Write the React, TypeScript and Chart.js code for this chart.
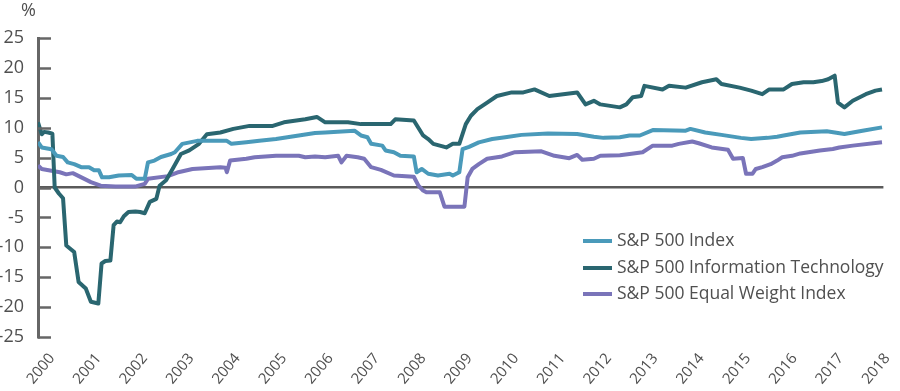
import React, { useEffect, useRef } from "react";
import { Chart, registerables } from "chart.js";

Chart.register(...registerables);

const yearTicks = [2000, 2001, 2002, 2003, 2004, 2005, 2006, 2007, 2008, 2009, 2010, 2011, 2012, 2013, 2014, 2015, 2016, 2017, 2018];
const yTicks = [-25, -20, -15, -10, -5, 0, 5, 10, 15, 20, 25];
const seriesNames = ["S&P 500 Index", "S&P 500 Information Technology", "S&P 500 Equal Weight Index"];
const seriesColors = ["#4a9aba", "#2a6670", "#7a74b9"];

const spDates = [2000.00, 2000.08, 2000.29, 2000.40, 2000.54, 2000.64, 2000.78, 2000.93, 2001.10, 2001.21, 2001.31, 2001.38, 2001.53, 2001.74, 2002.02, 2002.12, 2002.30, 2002.37, 2002.51, 2002.65, 2002.87, 2002.95, 2003.11, 2003.43, 2004.07, 2004.17, 2004.49, 2004.77, 2005.13, 2005.62, 2005.97, 2006.19, 2006.82, 2006.96, 2007.10, 2007.18, 2007.42, 2007.49, 2007.67, 2007.81, 2008.10, 2008.16, 2008.27, 2008.41, 2008.62, 2008.87, 2008.94, 2009.08, 2009.15, 2009.29, 2009.50, 2009.79, 2010.07, 2010.42, 2010.99, 2011.62, 2011.98, 2012.19, 2012.54, 2012.75, 2012.97, 2013.25, 2013.96, 2014.06, 2014.38, 2014.73, 2015.15, 2015.37, 2015.72, 2015.93, 2016.07, 2016.43, 2017.00, 2017.38, 2017.77, 2018.19];
const spValues = [7.6, 6.7, 6.4, 5.3, 5.1, 4.2, 3.9, 3.4, 3.4, 2.9, 2.9, 1.7, 1.7, 2.0, 2.1, 1.45, 1.45, 4.2, 4.5, 5.1, 5.6, 5.9, 7.3, 7.8, 7.8, 7.3, 7.55, 7.8, 8.1, 8.7, 9.1, 9.2, 9.5, 8.7, 8.4, 7.3, 7.0, 6.2, 5.9, 5.3, 5.2, 2.55, 3.1, 2.3, 2.0, 2.3, 2.0, 2.55, 6.4, 6.8, 7.55, 8.1, 8.4, 8.8, 9.05, 8.95, 8.5, 8.3, 8.4, 8.7, 8.7, 9.6, 9.5, 9.8, 9.2, 8.8, 8.3, 8.1, 8.3, 8.5, 8.7, 9.2, 9.4, 8.95, 9.5, 10.05];

const itDates = [2000.00, 2000.08, 2000.13, 2000.22, 2000.31, 2000.36, 2000.45, 2000.54, 2000.61, 2000.72, 2000.78, 2000.875, 2001.03, 2001.14, 2001.30, 2001.37, 2001.45, 2001.56, 2001.63, 2001.70, 2001.77, 2001.85, 2001.95, 2002.10, 2002.20, 2002.30, 2002.41, 2002.55, 2002.62, 2002.76, 2002.90, 2003.08, 2003.26, 2003.47, 2003.64, 2003.93, 2004.21, 2004.56, 2005.06, 2005.30, 2005.76, 2006.01, 2006.19, 2006.68, 2006.96, 2007.60, 2007.70, 2008.10, 2008.30, 2008.41, 2008.52, 2008.80, 2008.94, 2009.08, 2009.22, 2009.33, 2009.47, 2009.68, 2009.89, 2010.21, 2010.46, 2010.70, 2011.02, 2011.62, 2011.80, 2011.98, 2012.12, 2012.54, 2012.68, 2012.82, 2013.00, 2013.07, 2013.46, 2013.60, 2013.96, 2014.31, 2014.62, 2014.73, 2015.12, 2015.37, 2015.61, 2015.76, 2016.07, 2016.25, 2016.50, 2016.71, 2016.89, 2017.03, 2017.17, 2017.24, 2017.38, 2017.56, 2017.84, 2018.05, 2018.19];
const itValues = [10.9, 8.9, 9.3, 9.2, 9.0, 0.0, -1.0, -1.8, -9.7, -10.4, -10.8, -15.8, -16.9, -19.1, -19.4, -12.7, -12.3, -12.2, -6.3, -5.7, -5.8, -4.8, -4.1, -4.0, -4.1, -4.3, -2.4, -1.9, 0.3, 1.2, 3.1, 5.6, 6.2, 7.3, 8.9, 9.2, 9.8, 10.3, 10.3, 10.9, 11.4, 11.8, 10.9, 10.9, 10.6, 10.6, 11.4, 11.2, 8.7, 8.1, 7.3, 6.7, 7.3, 7.3, 10.6, 12.0, 13.1, 14.2, 15.3, 15.9, 15.9, 16.4, 15.3, 15.9, 13.9, 14.5, 13.9, 13.4, 13.9, 15.1, 15.3, 17.0, 16.4, 17.0, 16.7, 17.6, 18.1, 17.3, 16.7, 16.2, 15.6, 16.4, 16.4, 17.3, 17.6, 17.6, 17.8, 18.1, 18.7, 14.2, 13.4, 14.5, 15.6, 16.2, 16.4];

const ewDates = [2000.00, 2000.08, 2000.47, 2000.61, 2000.75, 2001.00, 2001.14, 2001.35, 2001.67, 2002.09, 2002.30, 2002.37, 2002.80, 2003.00, 2003.33, 2003.93, 2004.04, 2004.07, 2004.14, 2004.49, 2004.67, 2005.13, 2005.62, 2005.76, 2005.97, 2006.19, 2006.47, 2006.54, 2006.65, 2006.89, 2007.03, 2007.18, 2007.39, 2007.67, 2008.10, 2008.20, 2008.30, 2008.37, 2008.66, 2008.76, 2009.19, 2009.26, 2009.36, 2009.50, 2009.68, 2010.00, 2010.28, 2010.85, 2011.13, 2011.45, 2011.62, 2011.73, 2011.98, 2012.12, 2012.54, 2012.75, 2013.03, 2013.25, 2013.67, 2013.81, 2014.10, 2014.24, 2014.52, 2014.87, 2014.98, 2015.19, 2015.26, 2015.40, 2015.47, 2015.61, 2015.79, 2015.93, 2016.04, 2016.25, 2016.43, 2016.85, 2017.13, 2017.27, 2017.56, 2018.19];
const ewValues = [3.7, 3.1, 2.55, 2.2, 2.4, 1.45, 0.9, 0.3, 0.15, 0.15, 0.6, 1.45, 1.9, 2.5, 3.1, 3.4, 3.3, 2.55, 4.5, 4.8, 5.05, 5.3, 5.3, 5.05, 5.2, 5.05, 5.3, 4.2, 5.3, 5.05, 4.8, 3.4, 2.95, 2.0, 1.8, 0.3, -0.5, -0.8, -0.8, -3.2, -3.2, 1.7, 3.1, 3.9, 4.8, 5.2, 5.9, 6.05, 5.3, 4.9, 5.45, 4.65, 4.8, 5.3, 5.4, 5.6, 5.9, 7.0, 7.0, 7.3, 7.7, 7.4, 6.7, 6.3, 4.8, 4.95, 2.3, 2.3, 3.1, 3.4, 3.9, 4.5, 5.05, 5.3, 5.7, 6.2, 6.45, 6.7, 7.0, 7.55];

const FONT = "'Open Sans', 'DejaVu Sans', sans-serif";
const TEXT = "#505050";

const toPoints = (d: number[], v: number[]) => d.map((x, i) => ({ x, y: v[i] }));

const decorPlugin = {
  id: "decor",
  afterDraw(chart: any) {
    const { ctx, chartArea, scales } = chart;
    const y = scales.y;
    ctx.save();
    // inward y tick marks
    ctx.strokeStyle = "#666666";
    ctx.lineWidth = 2.5;
    yTicks.forEach((v) => {
      const py = Math.round(y.getPixelForValue(v)) + 0.5;
      ctx.beginPath();
      ctx.moveTo(chartArea.left, py);
      ctx.lineTo(chartArea.left + 13, py);
      ctx.stroke();
    });
    // % unit label
    ctx.fillStyle = TEXT;
    ctx.font = `18px ${FONT}`;
    ctx.textAlign = "left";
    ctx.textBaseline = "middle";
    ctx.fillText("%", 21, 11);
    // legend
    ctx.font = `17.5px ${FONT}`;
    const rows = [241, 268, 294];
    chart.data.datasets.forEach((ds: any, i: number) => {
      ctx.strokeStyle = ds.borderColor;
      ctx.lineWidth = 4;
      ctx.beginPath();
      ctx.moveTo(583, rows[i]);
      ctx.lineTo(612, rows[i]);
      ctx.stroke();
      ctx.fillStyle = TEXT;
      ctx.fillText(ds.label, 617, rows[i]);
    });
    ctx.restore();
  },
};

export default function App() {
  const ref = useRef<HTMLCanvasElement>(null);
  useEffect(() => {
    const canvas = ref.current;
    if (!canvas) return;
    const chart = new Chart(canvas, {
      type: "line",
      data: {
        datasets: [
          { label: seriesNames[0], data: toPoints(spDates, spValues), borderColor: seriesColors[0] },
          { label: seriesNames[1], data: toPoints(itDates, itValues), borderColor: seriesColors[1] },
          { label: seriesNames[2], data: toPoints(ewDates, ewValues), borderColor: seriesColors[2] },
        ].map((d) => ({ ...d, borderWidth: 4, pointRadius: 0, tension: 0, fill: false, borderJoinStyle: "round" as const })),
      },
      options: {
        responsive: false,
        animation: false,
        devicePixelRatio: 1,
        layout: { padding: { top: 38, right: 2, left: 0, bottom: 0 } },
        plugins: { legend: { display: false }, tooltip: { enabled: false } },
        scales: {
          x: {
            type: "linear",
            min: 2000,
            max: 2018.22,
            afterBuildTicks: (s: any) => {
              s.ticks = yearTicks.map((v) => ({ value: v }));
            },
            afterFit: (s: any) => {
              s.height = 54;
            },
            grid: { display: false, drawTicks: false },
            border: { display: false },
            ticks: {
              autoSkip: false,
              minRotation: 50,
              maxRotation: 50,
              padding: 13,
              labelOffset: 14,
              color: TEXT,
              font: { family: FONT, size: 15 },
              callback: (v: any) => String(v),
            },
          },
          y: {
            min: -25,
            max: 25,
            afterBuildTicks: (s: any) => {
              s.ticks = yTicks.map((v) => ({ value: v }));
            },
            afterFit: (s: any) => {
              s.width = 38;
            },
            grid: {
              drawTicks: false,
              color: (c: any) => (c.tick && c.tick.value === 0 ? "#5a5a5a" : "rgba(0,0,0,0)"),
              lineWidth: 2.5,
            },
            border: { display: true, color: "#666666", width: 3 },
            ticks: {
              padding: 14,
              color: TEXT,
              font: { family: FONT, size: 18 },
              callback: (v: any) => String(v),
            },
          },
        },
      },
      plugins: [decorPlugin],
    });
    return () => chart.destroy();
  }, []);
  return (
    <div style={{ position: "absolute", left: 0, top: 0, width: 900, height: 391 }}>
      <canvas ref={ref} width={900} height={391} />
    </div>
  );
}
